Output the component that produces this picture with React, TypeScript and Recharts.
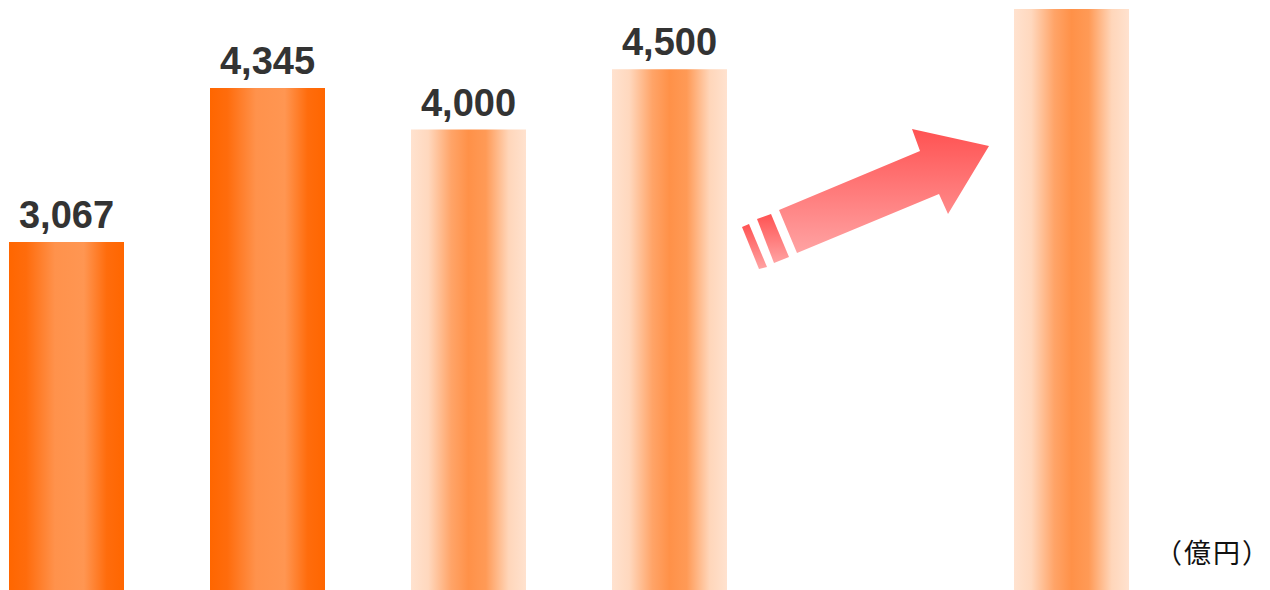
import { Bar, BarChart, Cell, LabelList, XAxis, YAxis } from "recharts";

const CATEGORIES = ["実績1", "実績2", "計画1", "計画2", "", "目標"];
const VALUES = [3067, 4345, 4000, 4500, null, 5000];
const LABELS = ["3,067", "4,345", "4,000", "4,500", "", ""];
const KINDS = ["actual", "actual", "plan", "plan", "plan", "plan"];

const data = CATEGORIES.map((c, i) => ({
  name: c,
  value: VALUES[i],
  label: LABELS[i],
}));

export default function App() {
  return (
    <div
      style={{
        position: "fixed",
        left: 0,
        top: 0,
        width: 1270,
        height: 590,
        overflow: "hidden",
        background: "#fff",
      }}
    >
      <div style={{ position: "absolute", left: -34, top: 0 }}>
        <BarChart
          width={1206}
          height={612}
          data={data}
          margin={{ top: 9, right: 0, bottom: 0, left: 0 }}
        >
          <defs>
            <linearGradient id="gActual" x1="0" y1="0" x2="1" y2="0">
              <stop offset="0" stopColor="#FF6600" />
              <stop offset="0.15" stopColor="#FF6C0C" />
              <stop offset="0.4" stopColor="#FF924C" />
              <stop offset="0.65" stopColor="#FF9652" />
              <stop offset="0.85" stopColor="#FF6C0C" />
              <stop offset="1" stopColor="#FF6600" />
            </linearGradient>
            <linearGradient id="gPlan" x1="0" y1="0" x2="1" y2="0">
              <stop offset="0" stopColor="#FFE2CF" />
              <stop offset="0.15" stopColor="#FFD8BE" />
              <stop offset="0.35" stopColor="#FFA468" />
              <stop offset="0.5" stopColor="#FF9148" />
              <stop offset="0.65" stopColor="#FF9A56" />
              <stop offset="0.85" stopColor="#FFD6BA" />
              <stop offset="1" stopColor="#FFE2CF" />
            </linearGradient>
          </defs>
          <XAxis dataKey="name" hide />
          <YAxis hide domain={[0, 5000]} />
          <Bar dataKey="value" barSize={115} isAnimationActive={false}>
            {data.map((d, i) => (
              <Cell
                key={i}
                fill={KINDS[i] === "actual" ? "url(#gActual)" : "url(#gPlan)"}
              />
            ))}
            <LabelList
              dataKey="label"
              position="top"
              offset={14}
              fill="#333"
              style={{
                fontFamily: "'Liberation Sans', Arial, sans-serif",
                fontWeight: "bold",
                fontSize: 38,
              }}
            />
          </Bar>
        </BarChart>
      </div>

      {/* 右肩上がりの矢印 */}
      <svg
        width={1270}
        height={590}
        style={{ position: "absolute", left: 0, top: 0, pointerEvents: "none" }}
      >
        <defs>
          <linearGradient id="gArrow" x1="0" y1="0" x2="0" y2="1">
            <stop offset="0" stopColor="#FF5252" />
            <stop offset="1" stopColor="#FFA3A3" />
          </linearGradient>
        </defs>
        <g fill="url(#gArrow)">
          <polygon points="989,146 912,129 920,151 779,210 797,253 939,194 948,214" />
          <polygon points="757,219 771,214 789,257 774,263" />
          <polygon points="742,227 749,224 767,267 759,269" />
        </g>
      </svg>

      <div
        style={{
          position: "absolute",
          left: 1155,
          top: 534,
          fontFamily: "'Noto Sans CJK JP', sans-serif",
          fontSize: 27,
          lineHeight: "36px",
          color: "#111",
          whiteSpace: "nowrap",
        }}
      >
        <span style={{ letterSpacing: 2 }}>（億円</span>）
      </div>
    </div>
  );
}
